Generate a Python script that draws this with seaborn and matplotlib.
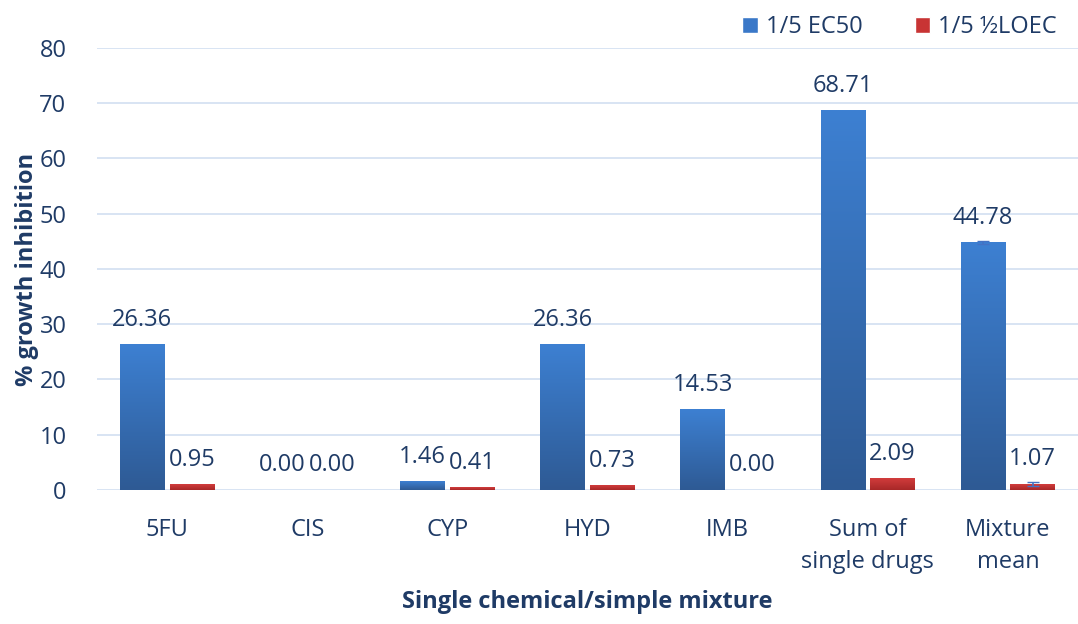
import numpy as np
import pandas as pd
import matplotlib
matplotlib.use("Agg")
import matplotlib.pyplot as plt
from matplotlib.colors import LinearSegmentedColormap
from matplotlib.patches import Patch
import seaborn as sns

categories = ["5FU", "CIS", "CYP", "HYD", "IMB", "Sum of\nsingle drugs", "Mixture\nmean"]
ec50 = [26.36, 0.00, 1.46, 26.36, 14.53, 68.71, 44.78]
loec = [0.95, 0.00, 0.41, 0.73, 0.00, 2.09, 1.07]
series = ["1/5 EC50", "1/5 \u00bdLOEC"]
# small error bars only on the mixture mean
mix_err = [0.3, 0.3]

df = pd.DataFrame({
    "cat": categories * 2,
    "val": ec50 + loec,
    "series": [series[0]] * len(categories) + [series[1]] * len(categories),
})

sns.set_style("white")
plt.rcParams["font.family"] = ["Open Sans", "DejaVu Sans"]
txt = "#1F3B66"
fs = 17

fig = plt.figure(figsize=(10.78, 6.24), dpi=100)
ax = fig.add_axes([0.09, 0.215, 0.91, 0.708])

sns.barplot(data=df, x="cat", y="val", hue="series", ax=ax, width=0.71, gap=0.1,
            palette=["#3A78C8", "#C83434"], legend=False, zorder=3)

grads = [LinearSegmentedColormap.from_list("b", ["#2E5A94", "#3D80D2"]),
         LinearSegmentedColormap.from_list("r", ["#A82828", "#D23C3C"])]
g = np.linspace(0, 1, 256).reshape(-1, 1)
for cont, cmap in zip(ax.containers, grads):
    for bar in cont:
        x0, w, h = bar.get_x(), bar.get_width(), bar.get_height()
        if h > 0:
            ax.imshow(g, extent=[x0, x0 + w, 0, h], origin="lower", aspect="auto",
                      cmap=cmap, zorder=3)
        bar.set_facecolor("none")
        bar.set_edgecolor("none")
    ax.bar_label(cont, fmt="%.2f", padding=9, fontsize=fs, color=txt)

# error bars for the mixture mean
for cont, err in zip(ax.containers, mix_err):
    bar = cont[-1]
    ax.errorbar(bar.get_x() + bar.get_width() / 2, bar.get_height(), yerr=err,
                fmt="none", ecolor="#4472C4", elinewidth=1.2, capsize=4, zorder=4)

ax.set_xlim(-0.5, len(categories) - 0.5)
ax.set_ylim(0, 80)
ax.set_yticks(range(0, 81, 10))
ax.yaxis.grid(True, color="#D6E2F2", linewidth=1.3, zorder=0)
ax.set_axisbelow(True)
for s in ax.spines.values():
    s.set_visible(False)
ax.tick_params(axis="both", length=0, labelsize=fs, labelcolor=txt)
ax.tick_params(axis="x", pad=20)
ax.tick_params(axis="y", pad=22)
for lab in ax.get_xticklabels():
    lab.set_linespacing(1.45)
ax.set_xlabel("Single chemical/simple mixture", fontsize=fs, fontweight="bold",
              color=txt, labelpad=12)
ax.set_ylabel("% growth inhibition", fontsize=fs, fontweight="bold", color=txt, labelpad=0)

handles = [Patch(facecolor="#3A78C8"), Patch(facecolor="#C83434")]
fig.legend(handles, series, loc="upper right", bbox_to_anchor=(1.0, 1.01), ncol=2,
           frameon=False, fontsize=fs, labelcolor=txt, handlelength=0.65,
           handleheight=0.65, handletextpad=0.35, columnspacing=2.2)

fig.savefig("out.png", dpi=100)
